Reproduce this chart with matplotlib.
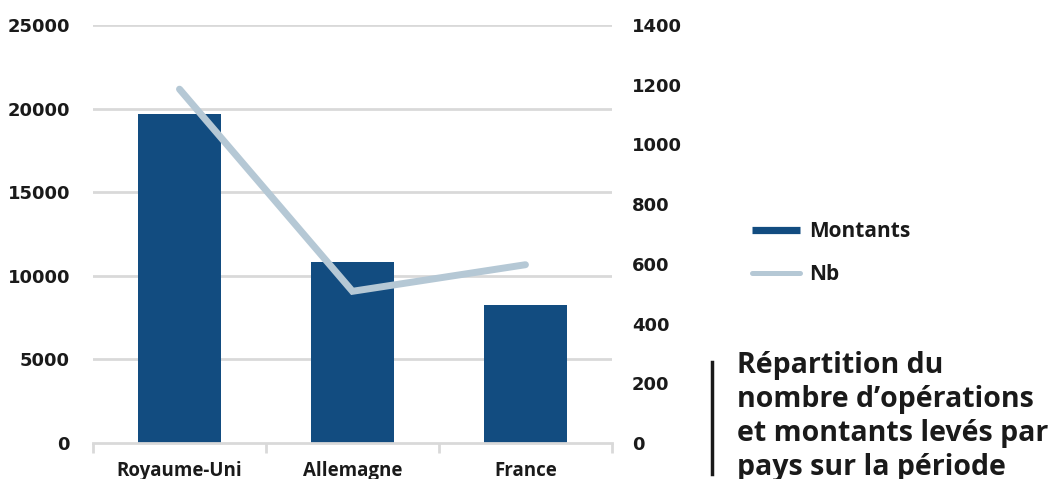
import matplotlib
matplotlib.use("Agg")
import matplotlib.pyplot as plt
from matplotlib.lines import Line2D

plt.rcParams['font.family'] = ['Open Sans', 'DejaVu Sans']

categories = ["Royaume-Uni", "Allemagne", "France"]
montants = [19700, 10800, 8250]
nb = [1185, 508, 597]
left_ticks = [0, 5000, 10000, 15000, 20000, 25000]
right_ticks = [0, 200, 400, 600, 800, 1000, 1200, 1400]
title_lines = ["Répartition du", "nombre d\u2019opérations", "et montants levés par", "pays sur la période"]

bar_color = "#124C80"
line_color = "#B5C8D5"
grid_color = "#D9D9D9"
text_color = "#1a1a1a"
digit_font = {"family": "DejaVu Sans", "weight": "bold", "size": 13}

fig = plt.figure(figsize=(10.58, 4.79), dpi=100)
ax = fig.add_axes([0.0879, 0.0752, 0.4905, 0.8727])
x = list(range(len(categories)))
ax.bar(x, montants, width=0.48, color=bar_color, zorder=2)
ax.set_xlim(-0.5, 2.5)
ax.set_ylim(0, 25000)
ax.set_yticks(left_ticks)
ax.set_yticklabels([str(v) for v in left_ticks], fontdict=digit_font, color=text_color)
for v in left_ticks[1:]:
    ax.axhline(v, color=grid_color, lw=2, zorder=1)
for s in ["top", "left", "right"]:
    ax.spines[s].set_visible(False)
ax.spines["bottom"].set_color(grid_color)
ax.spines["bottom"].set_linewidth(2)
ax.tick_params(axis="y", length=0, pad=16.5)
ax.set_xticks([-0.5, 0.5, 1.5, 2.5], minor=True)
ax.set_xticks(x)
ax.set_xticklabels(categories, fontsize=13.5, fontweight="bold", color=text_color)
ax.tick_params(axis="x", which="major", length=0, pad=13)
ax.tick_params(axis="x", which="minor", length=7, width=2, color=grid_color)

ax2 = ax.twinx()
ax2.plot(x, nb, color=line_color, lw=5, solid_capstyle="round", solid_joinstyle="miter", zorder=3)
ax2.set_ylim(0, 1400)
ax2.set_yticks(right_ticks)
ax2.set_yticklabels([str(v) for v in right_ticks], fontdict=digit_font, color=text_color)
for s in ["top", "left", "right", "bottom"]:
    ax2.spines[s].set_visible(False)
ax2.tick_params(axis="y", length=0, pad=14.4)

handles = [Line2D([0], [0], color=bar_color, lw=5.2, solid_capstyle="butt"),
           Line2D([0], [0], color=line_color, lw=3.6, solid_capstyle="round")]
leg = fig.legend(handles, ["Montants", "Nb"], loc="center left",
                 bbox_to_anchor=(0.7104, 1 - 253/479), frameon=False, handlelength=2.3,
                 handletextpad=0.45, labelspacing=1.05, borderaxespad=0, borderpad=0,
                 prop={"family": "Open Sans", "weight": "bold", "size": 15})
for t in leg.get_texts():
    t.set_color(text_color)

fig.add_artist(Line2D([712/1058, 712/1058], [1-362/479, 1-474/479], color=text_color, lw=2.5))
fig.text(737/1058, 1-351/479, "\n".join(title_lines), fontsize=20.5, fontweight="bold",
         color=text_color, va="top", ha="left", linespacing=1.22)

fig.savefig("out.png", dpi=100)
